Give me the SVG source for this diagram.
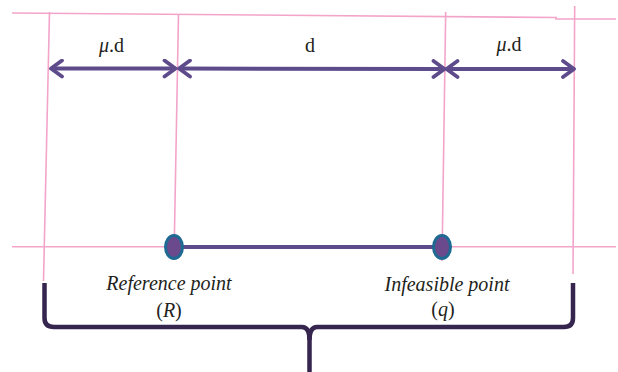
<svg xmlns="http://www.w3.org/2000/svg" width="618" height="372" viewBox="0 0 618 372">
<style>
.guide{stroke:#f3a5c9;stroke-width:1.6;fill:none}
.dim{stroke:#5e4b8b;stroke-width:4;fill:none}
.brace{stroke:#35254f;stroke-width:4.5;fill:none;stroke-linecap:butt;stroke-linejoin:round}
.lbl{font-family:"Liberation Serif","DejaVu Serif",serif;font-size:20px;fill:#231f20;text-anchor:middle}
.it{font-style:italic}
.pt{fill:#6a4a8c;stroke:#1f6a92;stroke-width:3}
</style>
<defs>
<marker id="chev" markerUnits="userSpaceOnUse" viewBox="-14 -10 16 20" refX="0" refY="0" markerWidth="16" markerHeight="20" orient="auto-start-reverse">
<path d="M-11,-8 L0,0 L-11,8" fill="none" stroke="#5e4b8b" stroke-width="3.8" stroke-linejoin="round" stroke-linecap="round"/>
</marker>
</defs>
<g id="guides">
<line class="guide" x1="12" y1="13" x2="557" y2="17.5"/>
<line class="guide" x1="555" y1="19" x2="616" y2="19"/>
<line class="guide" x1="49.5" y1="12" x2="43.5" y2="281"/>
<line class="guide" x1="178.5" y1="14" x2="174" y2="258"/>
<line class="guide" x1="445.7" y1="12" x2="442" y2="261"/>
<line class="guide" x1="574.7" y1="6" x2="573" y2="274"/>
<line class="guide" x1="12" y1="246.7" x2="616" y2="246.7"/>
</g>
<g id="connectors">
<line class="dim" x1="51" y1="68.5" x2="175.5" y2="68.5" marker-start="url(#chev)" marker-end="url(#chev)"/>
<line class="dim" x1="179" y1="68.5" x2="444.5" y2="69" marker-start="url(#chev)" marker-end="url(#chev)"/>
<line class="dim" x1="446.5" y1="69" x2="574" y2="69" marker-start="url(#chev)" marker-end="url(#chev)"/>
<line x1="174" y1="247" x2="442" y2="247" stroke="#5e4b8b" stroke-width="4"/>
</g>
<g id="labels-top">
<text class="lbl" x="111.5" y="52"><tspan class="it">μ</tspan>.d</text>
<text class="lbl" x="310" y="52">d</text>
<text class="lbl" x="509" y="51"><tspan class="it">μ</tspan>.d</text>
</g>
<g id="node-R">
<ellipse class="pt" cx="174" cy="247" rx="8.5" ry="11.5"/>
<text class="lbl it" x="169" y="290">Reference point</text>
<text class="lbl" x="169" y="316.5">(<tspan class="it">R</tspan>)</text>
</g>
<g id="node-q">
<ellipse class="pt" cx="442" cy="247" rx="8.5" ry="11.5"/>
<text class="lbl it" x="447" y="290.5">Infeasible point</text>
<text class="lbl" x="443" y="316">(<tspan class="it">q</tspan>)</text>
</g>
<g id="brace">
<path class="brace" d="M44.5,283 L44.5,318 Q44.5,327 54,327 L302,327 Q309.5,327 309.5,340 L309.5,372"/>
<path class="brace" d="M573,283 L573,318 Q573,327 564,327 L317,327 Q309.5,327 309.5,340"/>
</g>
</svg>
